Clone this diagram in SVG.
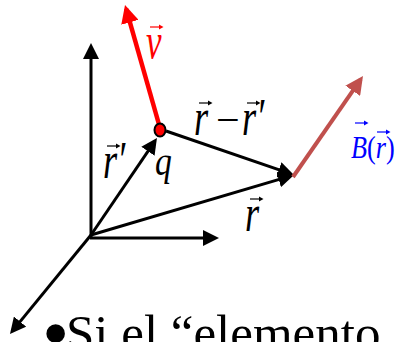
<svg xmlns="http://www.w3.org/2000/svg" xmlns:xlink="http://www.w3.org/1999/xlink" width="401" height="342" viewBox="0 0 401 342">
<style>
.ax{stroke:#000;stroke-width:3;fill:none}
.lbl{font-family:"Liberation Serif","Times New Roman",serif;font-style:italic}
.blk{fill:#000}
.bul{font-family:"Liberation Serif","Times New Roman",serif;font-size:51px;fill:#000}
</style>
<defs>
<marker id="ah" viewBox="0 0 16 16" refX="12" refY="8" markerWidth="16" markerHeight="16" markerUnits="userSpaceOnUse" orient="auto"><path d="M0,0 L16,8 L0,16 Z" fill="#000"/></marker>
<marker id="ahR" viewBox="0 0 18 18" refX="14" refY="9" markerWidth="18" markerHeight="18" markerUnits="userSpaceOnUse" orient="auto"><path d="M0,0 L18,9 L0,18 Z" fill="#ff0000"/></marker>
<marker id="ahB" viewBox="0 0 18 18" refX="14" refY="9" markerWidth="18" markerHeight="18" markerUnits="userSpaceOnUse" orient="auto"><path d="M0,0 L18,9 L0,18 Z" fill="#c0504d"/></marker>
<g id="vec"><path d="M0,3 H10" stroke="currentColor" stroke-width="1.2"/><path d="M9,0.6 L13.5,3 L9,5.4 Z" fill="currentColor"/></g>
</defs>
<g id="connectors">
<line class="ax" x1="91" y1="237" x2="91" y2="47" marker-end="url(#ah)"/>
<line class="ax" x1="90" y1="238" x2="215" y2="238" marker-end="url(#ah)"/>
<line class="ax" x1="91" y1="235" x2="12.5" y2="330.9" marker-end="url(#ah)"/>
<line class="ax" x1="91" y1="235" x2="154.7" y2="141.3" marker-end="url(#ah)"/>
<line class="ax" x1="91" y1="235" x2="290.2" y2="176.1" marker-end="url(#ah)"/>
<line class="ax" x1="166" y1="131" x2="290.2" y2="173.7" marker-end="url(#ah)"/>
<line x1="293" y1="177" x2="360.7" y2="79.3" stroke="#c0504d" stroke-width="4" marker-end="url(#ahB)"/>
<line x1="160" y1="128" x2="126.1" y2="8.8" stroke="#ff0000" stroke-width="4.5" marker-end="url(#ahR)"/>
</g>
<g id="charge">
<ellipse cx="160" cy="130" rx="5.5" ry="6.5" fill="#ff0000" stroke="#000" stroke-width="2"/>
<text class="lbl blk" transform="translate(155,175) scale(0.8,1)" font-size="42">q</text>
</g>
<g id="label-v" color="#ff0000">
<text class="lbl" fill="#ff0000" transform="translate(146,58) scale(0.7,1)" font-size="50">v</text>
<use xlink:href="#vec" x="150" y="24"/>
</g>
<g id="label-rdiff" color="#000">
<text class="lbl blk" transform="translate(194,135) scale(0.7,1)" font-size="52">r</text>
<use xlink:href="#vec" x="199" y="100"/>
<text class="blk" style="font-family:'Liberation Serif',serif" transform="translate(216,133) scale(1.05,1)" font-size="40">−</text>
<text class="lbl blk" transform="translate(242,135) scale(0.7,1)" font-size="52">r′</text>
<use xlink:href="#vec" x="247" y="100"/>
</g>
<g id="label-rprime" color="#000">
<text class="lbl blk" transform="translate(103,178) scale(0.7,1)" font-size="52">r′</text>
<use xlink:href="#vec" x="107" y="143"/>
</g>
<g id="label-r" color="#000">
<text class="lbl blk" transform="translate(245,231) scale(0.7,1)" font-size="52">r</text>
<use xlink:href="#vec" x="250" y="196"/>
</g>
<g id="label-B" color="#0000ff">
<text class="lbl" fill="#0000ff" transform="translate(351,158) scale(0.82,1)" font-size="32">B<tspan font-style="normal">(</tspan>r<tspan font-style="normal">)</tspan></text>
<use xlink:href="#vec" x="355" y="120"/>
<use xlink:href="#vec" x="377" y="129"/>
</g>
<g id="bullet-text">
<text class="bul" x="42" y="350"><tspan font-size="78" dy="10">•</tspan><tspan x="66" dy="-10">Si el “elemento</tspan></text>
</g>
</svg>
